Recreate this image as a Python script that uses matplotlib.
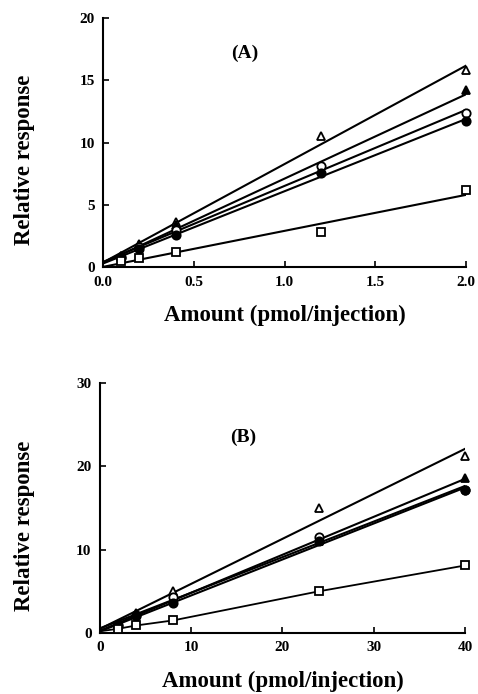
import numpy as np
import matplotlib
matplotlib.use("Agg")
import matplotlib.pyplot as plt

plt.rcParams['font.family'] = ['Liberation Serif', 'DejaVu Serif']
plt.rcParams['font.weight'] = 'bold'

# panel A data (pmol/injection)
xa = [0.1, 0.2, 0.4, 1.2, 2.0]
a_open_tri = [0.9, 1.9, 3.6, 10.5, 15.8]
a_fill_tri = [0.9, 1.8, 3.4, 7.8, 14.2]
a_open_circ = [0.8, 1.6, 3.0, 8.1, 12.4]
a_fill_circ = [0.7, 1.5, 2.6, 7.6, 11.7]
a_square = [0.5, 0.7, 1.2, 2.8, 6.2]

# panel B data
xb = [2, 4, 8, 24, 40]
b_open_tri = [1.0, 2.4, 5.0, 15.0, 21.2]
b_fill_tri = [1.0, 2.3, 4.0, 11.0, 18.6]
b_open_circ = [0.9, 2.2, 4.3, 11.5, 17.2]
b_fill_circ = [0.8, 2.0, 3.6, 11.0, 17.2]
b_square = [0.5, 0.9, 1.5, 5.0, 8.1]

styles = [
    ('^', 'white'),
    ('^', 'black'),
    ('o', 'white'),
    ('o', 'black'),
    ('s', 'white'),
]


def panel(ax, x, series, xmax, ymax, xticks, yticks, xfmt, label, lpos, ylab_x, curve_last=False):
    x = np.array(x, dtype=float)
    xx = np.array([0, xmax])
    for i, (y, (m, fc)) in enumerate(zip(series, styles)):
        if curve_last and i == len(series) - 1:
            ax.plot(np.r_[0, x], np.r_[0.2, y], color='black', lw=1.3)
        else:
            k, b = np.polyfit(x, y, 1)
            ax.plot(xx, k * xx + b, color='black', lw=1.5)
        ax.plot(x, y, linestyle='none', marker=m, ms=6, mfc=fc, mec='black',
                mew=1.3, clip_on=False, zorder=3)
    ax.set_xlim(0, xmax)
    ax.set_ylim(0, ymax)
    ax.set_xticks(xticks)
    ax.set_xticklabels([xfmt.format(t) for t in xticks])
    ax.set_yticks(yticks)
    ax.spines['top'].set_visible(False)
    ax.spines['right'].set_visible(False)
    for s in ['left', 'bottom']:
        ax.spines[s].set_linewidth(1.5)
    ax.tick_params(direction='in', length=4, width=1.2, labelsize=11, pad=6)
    ax.set_ylabel('Relative response', fontsize=16.5, fontweight='bold')
    ax.yaxis.set_label_coords(ylab_x, 0.43)
    ax.set_xlabel('Amount (pmol/injection)', fontsize=16.5, fontweight='bold', labelpad=12)
    ax.text(lpos[0], lpos[1], label, fontsize=14, fontweight='bold', ha='center', va='center')


fig = plt.figure(figsize=(4.78, 6.94), dpi=100)
ax1 = fig.add_axes([0.2155, 0.615, 0.7594, 0.359])
panel(ax1, xa, [a_open_tri, a_fill_tri, a_open_circ, a_fill_circ, a_square],
      2.0, 20, [0, 0.5, 1.0, 1.5, 2.0], [0, 5, 10, 15, 20], '{:.1f}', '(A)', (0.78, 17.2), -0.187)

ax2 = fig.add_axes([0.209, 0.088, 0.764, 0.360])
panel(ax2, xb, [b_open_tri, b_fill_tri, b_open_circ, b_fill_circ, b_square],
      40, 30, [0, 10, 20, 30, 40], [0, 10, 20, 30], '{:d}', '(B)', (15.7, 23.5), -0.178,
      curve_last=True)

fig.savefig('out.png', dpi=100)
